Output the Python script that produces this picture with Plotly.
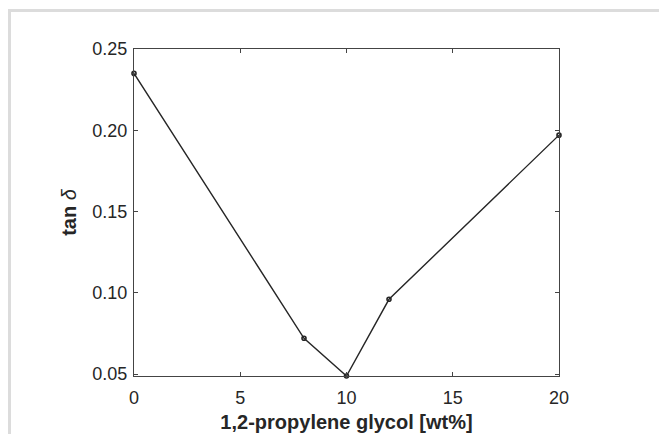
import plotly.graph_objects as go

# Data
pg_content = [0, 8, 10, 12, 20]            # 1,2-propylene glycol [wt%]
tan_delta = [0.235, 0.072, 0.0488, 0.096, 0.197]

x_ticks = [0, 5, 10, 15, 20]
y_ticks = [0.05, 0.10, 0.15, 0.20, 0.25]

W, H = 659, 434
L, R, T, B = 134, 559, 49, 376  # plot area in pixels

fig = go.Figure()
fig.add_trace(go.Scatter(
    x=pg_content, y=tan_delta, mode="lines+markers",
    line=dict(color="#262626", width=1.4),
    marker=dict(symbol="circle-open", size=4, color="#262626", line=dict(width=1.6)),
    showlegend=False, cliponaxis=False,
))

axis_common = dict(
    showline=True, linecolor="#444444", linewidth=1, mirror="ticks",
    ticks="inside", ticklen=4, tickcolor="#444444", tickwidth=1,
    showgrid=False, zeroline=False, automargin=False,
    tickfont=dict(family="Liberation Sans, Arial", size=18, color="#262626"),
)

fig.update_xaxes(
    range=[0, 20], tickvals=x_ticks, ticktext=[str(v) for v in x_ticks],
    ticklabelstandoff=5,
    title=dict(text="<b>1,2-propylene glycol [wt%]</b>",
               font=dict(family="Liberation Sans, Arial", size=20, color="#262626"),
               standoff=8),
    **axis_common,
)
fig.update_yaxes(
    range=[0.0488, 0.25], tickvals=y_ticks, ticktext=[f"{v:.2f}" for v in y_ticks],
    ticklabelstandoff=2,
    title=dict(text="<b>tan</b> <i>δ</i>",
               font=dict(family="Liberation Sans, Arial", size=20, color="#262626"),
               standoff=10),
    **axis_common,
)

def px_x(p):
    return (p - L) / (R - L)

def px_y(p):
    return (B - p) / (B - T)

# light gray screenshot frame (top and left edges)
fig.add_shape(type="path", xref="paper", yref="paper",
              path=f"M {px_x(9.5)} {px_y(436)} L {px_x(9.5)} {px_y(10.5)} L {px_x(662)} {px_y(10.5)}",
              line=dict(color="#dcdcdc", width=3))

fig.update_layout(
    width=W, height=H,
    margin=dict(l=L, r=W - R, t=T, b=H - B, pad=0),
    plot_bgcolor="white", paper_bgcolor="white",
)

fig.write_html("out.html")
